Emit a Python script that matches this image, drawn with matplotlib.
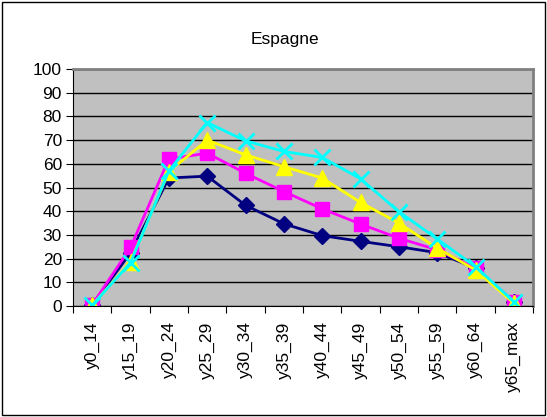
import matplotlib.pyplot as plt
from matplotlib.patches import Rectangle

plt.rcParams['font.family'] = ['Liberation Sans', 'DejaVu Sans']

categories = ['y0_14', 'y15_19', 'y20_24', 'y25_29', 'y30_34', 'y35_39',
              'y40_44', 'y45_49', 'y50_54', 'y55_59', 'y60_64', 'y65_max']
navy = [0.5, 22.5, 54, 54.8, 42.5, 34.7, 29.7, 27.3, 25, 22.5, 16, 1.8]
pink = [0.5, 24.7, 62, 64.5, 56, 48.3, 41, 34.6, 28.6, 23.7, 16, 1.8]
yellow = [0.3, 18.7, 56.7, 70, 63.8, 58.8, 54, 43.7, 35, 24.4, 15.2, 1.2]
cyan = [0.3, 18.3, 57, 77.4, 69.7, 65.2, 62.7, 53.7, 39.8, 28.3, 16.6, 1.8]

fig = plt.figure(figsize=(5.47, 4.17), dpi=100)
ax = fig.add_axes([0.1335, 0.2662, 0.8409, 0.5683])
ax.set_facecolor('#C0C0C0')

x = list(range(len(categories)))
ax.plot(x, navy, color='#000080', marker='D', ms=8, lw=2)
ax.plot(x, pink, color='#FF00FF', marker='s', ms=10, lw=2)
ax.plot(x, yellow, color='#FFFF00', marker='^', ms=11, lw=2)
ax.plot(x, cyan, color='#00FFFF', marker='x', ms=11, mew=2, lw=2)

ax.set_xlim(-0.5, len(categories) - 0.5)
ax.set_ylim(0, 100)
ax.set_yticks(range(0, 101, 10))
ax.set_xticks([i - 0.5 for i in range(len(categories) + 1)], minor=False)
ax.set_xticklabels([])
ax.set_xticks(x, minor=True)
ax.set_xticklabels(categories, minor=True, rotation=90, fontsize=12.5)
ax.tick_params(axis='x', which='minor', length=0, pad=11)
ax.tick_params(axis='x', which='major', length=5, direction='out', color='black')
ax.tick_params(axis='y', length=5, direction='out', labelsize=12.5, pad=3)
ax.yaxis.grid(True, color='black', lw=1)
ax.set_axisbelow(True)
for s in ['top', 'right']:
    ax.spines[s].set_color('#808080')
    ax.spines[s].set_linewidth(2)
ax.spines['left'].set_color('black')
ax.spines['bottom'].set_color('black')

fig.text(0.521, 0.905, 'Espagne', ha='center', va='center', fontsize=12.5)
fig.patches.append(Rectangle((0.004, 0.004), 0.992, 0.992, transform=fig.transFigure,
                             fill=False, ec='black', lw=1))

fig.savefig('out.png', dpi=100)
